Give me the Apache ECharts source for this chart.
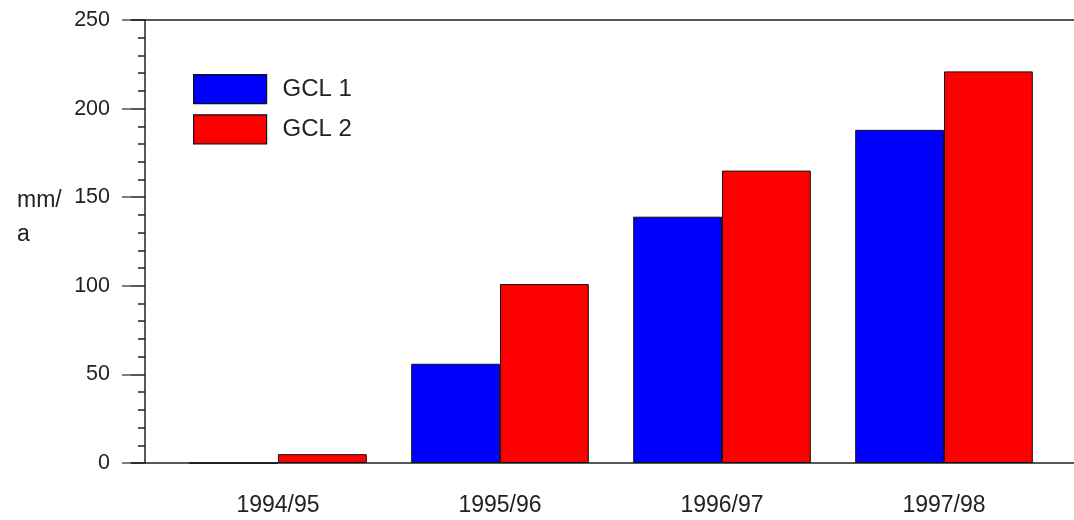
<!DOCTYPE html>
<html>
<head>
<meta charset="utf-8">
<script src="https://cdn.jsdelivr.net/npm/echarts@6/dist/echarts.min.js"></script>
<style>
  html, body { margin: 0; padding: 0; background: #fff; }
  #chart { width: 1074px; height: 520px; }
</style>
</head>
<body>
<div id="chart"></div>
<script>
// data
const categories = ["1994/95", "1995/96", "1996/97", "1997/98"];
const gcl1 = [0, 56, 139, 188];
const gcl2 = [5, 101, 165, 221];
const yTicks = [0, 50, 100, 150, 200, 250];

const font = "Liberation Sans";
const lineColor = "#222";

const chart = echarts.init(document.getElementById("chart"));

const option = {
  animation: false,
  textStyle: { fontFamily: font },
  title: {
    text: "mm/\na",
    left: 12,
    top: 179,
    textStyle: { fontFamily: font, fontSize: 23, fontWeight: "normal", color: "#222", lineHeight: 34 },
  },
  legend: {
    orient: "vertical",
    left: 188,
    top: 69,
    itemWidth: 73,
    itemHeight: 29,
    itemGap: 10,
    icon: "rect",
    data: ["GCL 1", "GCL 2"],
    textStyle: { fontSize: 24, color: "#222", fontFamily: font, padding: [0, 0, 0, 11] },
    itemStyle: { borderColor: "#111", borderWidth: 1.2 },
  },
  grid: [
    // bars
    { left: 167, right: 19, top: 20, bottom: 57 },
    // frame lines: bottom, top and right ticks
    { left: 131, right: 0, top: 20, bottom: 57 },
  ],
  xAxis: [
    {
      type: "category",
      gridIndex: 0,
      data: categories,
      axisLine: { show: false },
      axisTick: { alignWithLabel: true, length: 6, lineStyle: { color: lineColor, width: 1.5 } },
      axisLabel: { color: "#222", fontSize: 23, margin: 31, fontFamily: font },
    },
    {
      type: "value",
      gridIndex: 1,
      position: "bottom",
      min: 0, max: 1,
      axisLine: { show: true, lineStyle: { color: lineColor, width: 1.5 } },
      axisTick: { show: false },
      axisLabel: { show: false },
      splitLine: { show: false },
    },
    {
      type: "value",
      gridIndex: 1,
      position: "top",
      min: 0, max: 1,
      axisLine: { show: true, lineStyle: { color: lineColor, width: 1.5 } },
      axisTick: { show: false },
      axisLabel: { show: false },
      splitLine: { show: false },
    },
  ],
  yAxis: [
    {
      type: "value",
      gridIndex: 0,
      position: "left",
      offset: 22,
      min: yTicks[0],
      max: yTicks[yTicks.length - 1],
      interval: 50,
      axisLine: { show: true, lineStyle: { color: lineColor, width: 1.5 } },
      axisTick: { show: true, length: 14, lineStyle: { color: lineColor, width: 1.5 } },
      minorTick: { show: true, splitNumber: 5, length: 7, lineStyle: { color: lineColor, width: 1.5 } },
      axisLabel: { color: "#222", fontSize: 21.5, margin: 35, fontFamily: font },
      splitLine: { show: false },
    },
    {
      type: "value",
      gridIndex: 1,
      position: "right",
      min: yTicks[0],
      max: yTicks[yTicks.length - 1],
      interval: 50,
      axisLine: { show: false },
      axisTick: { show: true, inside: true, length: 9, lineStyle: { color: "#555", width: 1.5 } },
      axisLabel: { show: false },
      splitLine: { show: false },
    },
  ],
  series: [
    {
      name: "GCL 1",
      type: "bar",
      xAxisIndex: 0,
      yAxisIndex: 0,
      data: gcl1,
      barGap: "0%",
      barCategoryGap: "20%",
      itemStyle: { color: "#0000ff", borderColor: "#111", borderWidth: 1 },
    },
    {
      name: "GCL 2",
      type: "bar",
      xAxisIndex: 0,
      yAxisIndex: 0,
      data: gcl2,
      barGap: "0%",
      barCategoryGap: "20%",
      itemStyle: { color: "#ff0000", borderColor: "#111", borderWidth: 1 },
    },
  ],
};

chart.setOption(option);
</script>
</body>
</html>
